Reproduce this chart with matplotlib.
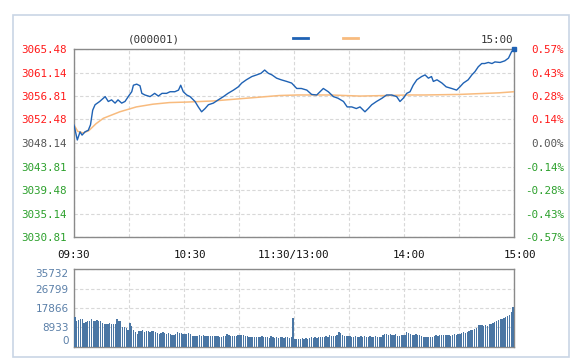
import matplotlib
matplotlib.use("Agg")
import matplotlib.pyplot as plt
from matplotlib.patches import Rectangle
from matplotlib.lines import Line2D

# ---------------- data ----------------
price_minutes = [0, 1.8, 3.3, 4.4, 6, 7.8, 9, 10.2, 11.5, 14, 17, 18.7, 20.5, 22.4, 24, 26, 27.8,
                 30.2, 31.5, 32.4, 34.2, 36, 37, 38.7, 41.5, 44, 46, 48, 50.5, 52.4, 55, 57,
                 58.2, 59.6, 61.5, 63.3, 66, 67.8, 69.6, 71.5, 73.3, 76, 78.7, 81.5, 84, 87,
                 89.6, 91.5, 94, 97, 99.6, 102, 104, 106, 108, 110.5, 113, 116, 118.7, 121.5,
                 124, 127, 129.6, 132.4, 136, 138.7, 141.5, 144, 147, 149, 151.5, 154, 156,
                 158.7, 160.5, 162.4, 165, 168, 170.5, 173.3, 176, 177.8, 179.6, 181.5, 183.3,
                 185, 187, 189.6, 191.5, 193.3, 195, 196, 198, 200.7, 203, 206, 208.7, 210.5,
                 212.4, 215, 217, 218.7, 220.5, 222.4, 224, 226, 228, 229.6, 232.4, 235, 237,
                 238.7, 240]
price_values = [3051.5, 3048.7, 3050.2, 3049.6, 3050.2, 3050.5, 3051.5, 3054.2, 3055.2, 3055.8,
                3056.7, 3055.8, 3056.1, 3055.5, 3056.1, 3055.5, 3055.8, 3057.0, 3057.6, 3058.8,
                3059.0, 3058.7, 3057.3, 3057.0, 3056.7, 3057.3, 3056.8, 3057.3, 3057.3, 3057.6,
                3057.6, 3057.9, 3058.8, 3057.6, 3057.0, 3056.7, 3055.8, 3054.8, 3053.9, 3054.5,
                3055.2, 3055.5, 3056.1, 3056.7, 3057.3, 3057.9, 3058.5, 3059.2, 3059.8, 3060.4,
                3060.7, 3061.0, 3061.6, 3061.0, 3060.7, 3060.1, 3059.8, 3059.5, 3059.2, 3058.2,
                3058.2, 3057.9, 3057.1, 3057.0, 3058.2, 3057.6, 3056.7, 3056.4, 3055.8, 3054.8,
                3054.8, 3054.5, 3054.8, 3053.9, 3054.5, 3055.2, 3055.8, 3056.4, 3057.0, 3057.0,
                3056.7, 3055.8, 3056.4, 3057.3, 3057.6, 3058.8, 3059.8, 3060.4, 3060.7, 3060.1,
                3060.4, 3059.5, 3059.8, 3059.2, 3058.5, 3058.2, 3057.9, 3058.5, 3059.2, 3059.8,
                3060.7, 3061.3, 3062.2, 3062.8, 3062.8, 3063.0, 3062.8, 3063.1, 3063.0, 3063.3,
                3063.8, 3065.0, 3065.4]

avg_minutes = [0, 2, 5, 8, 12, 16, 25, 34, 43, 52, 62, 76, 94, 112, 122, 140, 156, 170, 182,
               191, 210, 232, 240]
avg_values = [3051.5, 3050.3, 3050.0, 3050.4, 3051.7, 3052.7, 3053.9, 3054.8, 3055.3, 3055.6,
              3055.7, 3055.9, 3056.4, 3056.9, 3057.0, 3057.0, 3056.8, 3056.9, 3057.0, 3057.0,
              3057.1, 3057.4, 3057.6]

volumes = [
    13500, 11700, 12400, 12900, 12800, 11000, 11300, 11800, 12000, 12800,
    11800, 12000, 12200, 11700, 11900, 11000, 10300, 10600, 10200, 10800,
    10300, 10600, 10400, 12800, 12000, 12000, 9000, 9200, 8600, 7700,
    11000, 9300, 7700, 6700, 5900, 7000, 7000, 7700, 6700, 7300,
    7000, 6500, 7200, 7000, 6800, 6200, 6000, 6400, 6900, 6300,
    6000, 6200, 5800, 5500, 5300, 5900, 6500, 6100, 6200, 5900,
    5700, 5600, 6400, 5600, 4800, 4900, 5000, 4900, 5200, 5000,
    5100, 4900, 5000, 4800, 4700, 4900, 4800, 5000, 4800, 4600,
    4600, 5000, 4800, 5600, 5200, 4800, 5000, 4900, 4700, 5100,
    5300, 5200, 5400, 5000, 4700, 4600, 4500, 4300, 4200, 4600,
    4400, 4500, 4700, 4300, 4200, 4500, 4100, 4700, 4300, 4000,
    4300, 3900, 4200, 4400, 4000, 4600, 4400, 3900, 4200, 13100,
    3600, 3400, 3700, 3500, 3800, 3600, 3900, 3700, 4000, 4200,
    4100, 4300, 4100, 4400, 4200, 4500, 4300, 4700, 4500, 5400,
    5000, 4900, 4800, 5100, 6500, 6300, 5200, 4800, 4700, 4900,
    4800, 4600, 4500, 4700, 4400, 4600, 4800, 4500, 4700, 4600,
    4500, 4800, 4600, 4400, 4700, 4500, 4300, 4600, 5500, 5700,
    5600, 5400, 5800, 5500, 5300, 5600, 5000, 4900, 5200, 5400,
    5300, 6800, 6200, 5700, 5500, 5300, 5600, 5200, 5400, 5000,
    4600, 4400, 4300, 4500, 4200, 4600, 4900, 5100, 5000, 5300,
    5200, 5100, 5400, 5200, 5300, 5000, 5400, 5600, 5500, 5700,
    6000, 6200, 6500, 6300, 6800, 7200, 7700, 7500, 8000, 8600,
    10000, 9800, 10100, 9700, 9900, 9600, 10200, 10400, 10900, 11300,
    11800, 12300, 12700, 12500, 13000, 13600, 14200, 14700, 15800, 18300,
]

price_ticks = [3030.81, 3035.14, 3039.48, 3043.81, 3048.14, 3052.48, 3056.81, 3061.14, 3065.48]
pct_labels = ["-0.57%", "-0.43%", "-0.28%", "-0.14%", "0.00%", "0.14%", "0.28%", "0.43%", "0.57%"]
vol_ticks = [0, 8933, 17866, 26799, 35732]
time_ticks = [0, 60, 120, 180, 240]
time_labels = ["09:30", "10:30", "11:30/13:00", "14:00", "15:00"]

# ---------------- style ----------------
W, H = 581, 364
fig = plt.figure(figsize=(W / 100, H / 100), dpi=100)
mono = "DejaVu Sans Mono"
fs = 7.8
RED, GREEN, GRAY = "#ff1a1a", "#2ca02c", "#555555"
BLUE, ORANGE = "#1f62b4", "#f8bb7e"
VOLC = "#4a76a4"
GRIDC = "#d8d8d8"
FRAMEC = "#8a8a8a"


def fx(px):
    return px / W


def fy(py):
    return 1 - py / H


# outer border
fig.patches.append(Rectangle((fx(13), fy(357)), fx(569) - fx(13), fy(15) - fy(357),
                             transform=fig.transFigure, fill=False, ec="#c9d5e5", lw=1.2))

# ---------------- main axes ----------------
ax = fig.add_axes([fx(74), fy(237), fx(514) - fx(74), fy(49) - fy(237)])
ax.plot(avg_minutes, avg_values, color=ORANGE, lw=1.1, zorder=3)
ax.plot(price_minutes, price_values, color=BLUE, lw=1.0, zorder=4)
ax.plot([price_minutes[-1]], [price_values[-1]], marker="s", ms=2.5, color=BLUE, zorder=5,
        clip_on=False)
ax.set_xlim(0, 240)
ax.set_ylim(price_ticks[0], price_ticks[-1])
ax.set_xticks(range(0, 241, 30))
ax.set_xticklabels([])
ax.set_yticks(price_ticks)
ax.set_yticklabels([f"{v:.2f}" for v in price_ticks], family=mono, fontsize=fs)
mid = len(price_ticks) // 2
for i, lab in enumerate(ax.get_yticklabels()):
    lab.set_color(RED if i > mid else (GRAY if i == mid else GREEN))
ax.tick_params(axis="both", length=0)
ax.tick_params(axis="y", pad=5)
ax.grid(True, color=GRIDC, ls=(0, (3, 2)), lw=0.8)
for sp in ax.spines.values():
    sp.set_color(FRAMEC)
    sp.set_linewidth(1.0)

ax2 = ax.twinx()
ax2.set_ylim(ax.get_ylim())
ax2.set_yticks(price_ticks)
ax2.set_yticklabels(pct_labels, family=mono, fontsize=fs, ha="right")
for i, lab in enumerate(ax2.get_yticklabels()):
    lab.set_color(RED if i > mid else (GRAY if i == mid else GREEN))
ax2.tick_params(axis="y", length=0, pad=36)
for sp in ax2.spines.values():
    sp.set_visible(False)

# time labels between the two charts
offsets_px = [-1, 6, -1, 5, 6]
for t, lab, off in zip(time_ticks, time_labels, offsets_px):
    xd = fx(74 + t * 440 / 240 + off)
    fig.text(xd, fy(255), lab, ha="center", va="center", family=mono, fontsize=fs,
             color="#111111")

# header texts
fig.text(fx(154), fy(40), "(000001)", ha="center", va="center", family=mono, fontsize=fs,
         color="#333333")
fig.text(fx(513), fy(40), "15:00", ha="right", va="center", family=mono, fontsize=fs,
         color="#333333")
fig.lines.append(Line2D([fx(293), fx(308)], [fy(37.7), fy(37.7)], transform=fig.transFigure,
                        color=BLUE, lw=2))
fig.lines.append(Line2D([fx(343), fx(358)], [fy(37.7), fy(37.7)], transform=fig.transFigure,
                        color=ORANGE, lw=2))

# ---------------- volume axes ----------------
axv = fig.add_axes([fx(74), fy(346.5), fx(514) - fx(74), fy(269.3) - fy(346.5)])
axv.bar([i + 0.5 for i in range(len(volumes))], volumes, width=0.72, color=VOLC, lw=0,
        zorder=3)
axv.set_xlim(0, 240)
axv.set_ylim(vol_ticks[0], vol_ticks[-1])
axv.set_xticks(range(0, 241, 30))
axv.set_xticklabels([])
axv.set_yticks(vol_ticks)
axv.set_yticklabels([str(v) for v in vol_ticks], fontsize=7.5, color="#5a7fa8")
labs = axv.get_yticklabels()
labs[0].set_va("bottom")
labs[-1].set_va("top")
axv.tick_params(axis="both", length=0)
axv.tick_params(axis="y", pad=4)
axv.grid(True, color=GRIDC, ls=(0, (3, 2)), lw=0.8)
for sp in axv.spines.values():
    sp.set_color(FRAMEC)
    sp.set_linewidth(1.0)

fig.savefig("out.png", dpi=100)
